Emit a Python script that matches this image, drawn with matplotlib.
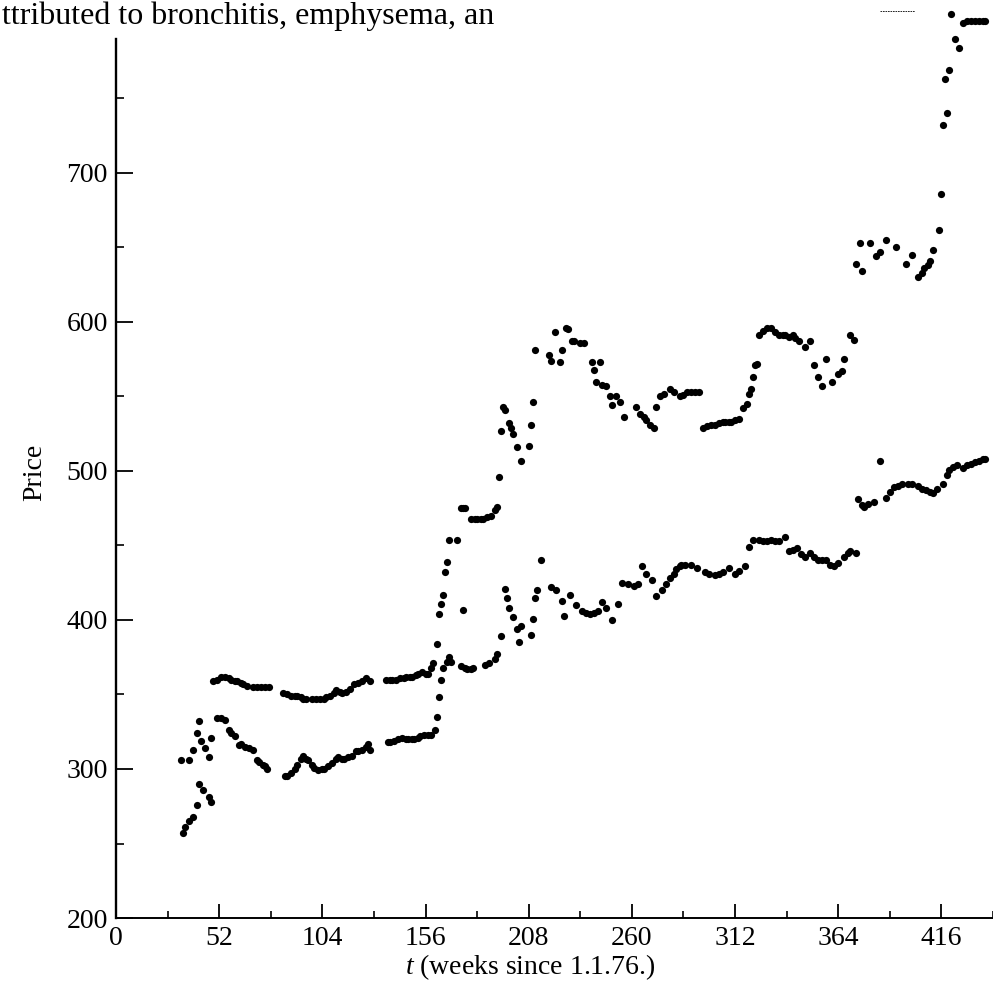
import matplotlib
matplotlib.use("Agg")
import matplotlib.pyplot as plt
from matplotlib.lines import Line2D

plt.rcParams['font.family'] = ['Liberation Serif', 'DejaVu Serif']
plt.rcParams['mathtext.fontset'] = 'custom'
plt.rcParams['mathtext.it'] = 'Liberation Serif:italic'
plt.rcParams['mathtext.rm'] = 'Liberation Serif'

# ---- data ----
# upper price series
weeks_upper = [33, 37, 39, 41, 42, 43, 45, 47, 48,
               49, 51, 53, 55, 57, 58, 60, 61, 63, 64, 66, 69, 71, 73, 75, 77,
               84, 86, 88, 90, 91, 93, 94, 96, 99, 101, 103, 105, 106, 108, 110, 111, 113, 114,
               116, 118, 120, 122, 124, 126, 128,
               136, 138, 139, 141, 143, 145, 146, 148, 149, 151, 152, 154, 156, 157, 159, 160,
               162, 163, 164, 165, 166, 167, 168, 172, 174, 175, 176, 179, 181, 182, 184, 185,
               187, 189, 191, 192, 193, 194, 195, 196, 198, 199, 200, 202, 204, 208, 209, 210, 211,
               218, 219, 221, 224, 225, 227, 228, 230, 231, 234, 236, 240, 241, 242, 244, 245,
               247, 249, 250, 252, 254, 256, 262, 264, 266, 267, 269, 271, 272, 274, 276, 279,
               281, 284, 286, 288, 290, 292, 294,
               296, 298, 300, 302, 304, 306, 307, 309, 310, 312, 314, 316, 318, 319, 320, 321,
               322, 323, 324, 326, 328, 330, 332, 334, 336, 337, 339, 341, 342, 344, 347, 350,
               352, 354, 356, 358, 361, 364, 366, 367, 370, 372,
               373, 375, 376, 380, 383, 385, 388, 393, 398, 401, 404, 406, 407, 409, 410, 412,
               415, 416, 417, 418, 419, 420, 421, 423, 425, 427, 429, 431, 433, 435, 437, 438]
price_upper = [306, 306, 313, 324, 332, 319, 314, 308, 321,
               359, 360, 362, 362, 361, 360, 359, 359, 358, 357, 356, 355, 355, 355, 355, 355,
               351, 350, 349, 349, 349, 348, 347, 347, 347, 347, 347, 347, 348, 349, 351, 353, 352, 351,
               352, 354, 357, 358, 359, 361, 359,
               360, 360, 360, 360, 361, 361, 362, 362, 362, 363, 364, 365, 364, 364, 368, 371,
               384, 404, 411, 417, 432, 439, 454, 454, 475, 475, 475, 468, 468, 468, 468, 468,
               469, 470, 474, 476, 496, 527, 543, 541, 532, 529, 525, 516, 507, 517, 531, 546, 581,
               578, 574, 593, 573, 581, 596, 595, 587, 587, 586, 586, 573, 568, 560, 573, 558,
               557, 550, 544, 550, 546, 536, 543, 538, 536, 534, 531, 529, 543, 550, 552, 555,
               553, 550, 551, 553, 553, 553, 553,
               529, 530, 531, 531, 532, 533, 533, 533, 533, 534, 535, 542, 545, 552, 555, 563,
               571, 572, 591, 594, 596, 596, 593, 591, 591, 591, 590, 591, 589, 587, 583, 587,
               571, 563, 557, 575, 560, 565, 567, 575, 591, 588,
               639, 653, 634, 653, 644, 647, 655, 650, 639, 645, 630, 633, 636, 638, 641, 648,
               662, 686, 732, 763, 740, 769, 807, 790, 784, 801, 802, 802, 802, 802, 802, 802]

# lower price series
weeks_lower = [34, 35, 37, 39, 41, 42, 44, 47, 48,
               51, 53, 55, 57, 58, 60, 62, 63, 65, 67, 69, 71, 72, 74, 75, 76,
               85, 86, 88, 90, 91, 93, 94, 96, 97, 99, 100, 102, 104, 105, 107, 109, 111, 112,
               114, 115, 117, 119, 121, 122, 124, 126, 127, 128,
               137, 138, 140, 142, 144, 146, 147, 149, 150, 152, 153, 155, 157, 159, 161, 162,
               163, 164, 165, 167, 168, 169, 174, 175, 176, 177, 179, 180, 186, 188, 191, 192,
               194, 196, 197, 198, 200, 202, 203, 204, 209, 210, 211, 212, 214,
               219, 222, 225, 226, 229, 232, 235, 237, 239, 241, 243, 245, 247, 250, 253, 255,
               258, 261, 263, 265, 267, 270, 272, 275, 277, 279, 281, 282, 284, 285, 287, 290,
               293, 297, 299, 302, 304, 306, 309, 312, 314, 317, 319, 321, 324, 326, 328, 330,
               332, 334, 337, 339, 341, 343, 345, 347, 350, 352, 354, 356, 358, 360, 362, 364,
               367, 369, 370, 373,
               374, 376, 377, 379, 382, 385, 388, 390, 392, 394, 396, 399, 401, 404, 406, 408,
               410, 412, 414, 417, 419, 420, 422, 424, 427, 429, 431, 433, 435, 437, 438]
price_lower = [257, 261, 265, 268, 276, 290, 286, 281, 278,
               334, 334, 333, 326, 324, 322, 316, 317, 315, 314, 313, 306, 305, 303, 302, 300,
               295, 295, 297, 300, 303, 307, 309, 307, 306, 303, 301, 299, 300, 300, 302, 304, 307, 308,
               307, 307, 308, 309, 312, 312, 313, 315, 317, 313,
               318, 318, 319, 320, 321, 320, 320, 320, 320, 321, 322, 323, 323, 323, 326, 335,
               348, 360, 368, 372, 375, 372, 369, 407, 368, 367, 367, 368, 370, 371, 374, 377,
               389, 421, 415, 408, 402, 394, 385, 396, 390, 401, 415, 420, 440,
               422, 420, 413, 403, 417, 410, 406, 405, 404, 405, 406, 412, 408, 400, 411, 425,
               424, 423, 424, 436, 431, 427, 416, 420, 424, 428, 431, 434, 436, 437, 437, 437,
               435, 432, 431, 430, 431, 432, 435, 431, 433, 436, 449, 454, 454, 453, 453, 454,
               453, 453, 456, 446, 447, 448, 444, 442, 445, 442, 440, 440, 440, 437, 436, 438,
               442, 445, 446, 445,
               481, 477, 476, 478, 479, 507, 482, 486, 489, 490, 491, 491, 491, 490, 488, 487,
               486, 485, 488, 491, 497, 501, 503, 504, 502, 504, 505, 506, 507, 508, 508]

x_ticks = [0, 52, 104, 156, 208, 260, 312, 364, 416]
y_ticks = [200, 300, 400, 500, 600, 700]

W, H = 993, 981
fig = plt.figure(figsize=(W / 100, H / 100), dpi=100)
fig.patch.set_facecolor('white')

ax = fig.add_axes([116 / W, 63 / H, 877 / W, 912 / H])
ax.set_xlim(0, 438.5)
ax.set_ylim(200, 200 + 912 / 1.49)

for wk, pr in ((weeks_upper, price_upper), (weeks_lower, price_lower)):
    ax.plot(wk, pr, linestyle='none', marker='o', ms=5.2, mew=0,
            color='black', clip_on=False)

for s in ('top', 'right'):
    ax.spines[s].set_visible(False)
ax.spines['left'].set_linewidth(1.7)
ax.spines['bottom'].set_linewidth(1.4)
ax.spines['left'].set_bounds(200, 790)

ax.set_xticks(x_ticks)
ax.set_xticklabels([str(v) for v in x_ticks])
ax.set_xticks([v + 26 for v in x_ticks], minor=True)
ax.set_yticks(y_ticks)
ax.set_yticklabels([str(v) for v in y_ticks])
ax.set_yticks([v + 50 for v in y_ticks if v + 50 <= 790], minor=True)

ax.tick_params(axis='x', which='major', direction='in', length=10, width=1.3,
               labelsize=20, pad=6)
ax.tick_params(axis='x', which='minor', direction='in', length=5, width=1.2)
ax.tick_params(axis='y', which='major', direction='in', length=12, width=1.3,
               labelsize=20, pad=6)
ax.tick_params(axis='y', which='minor', direction='in', length=6, width=1.2)

fig.text(35 / W, 1 - 472 / H, 'Price', rotation=90, ha='center', va='center',
         fontsize=20)
fig.text(530 / W, 1 - 967 / H, r'$t$ (weeks since 1.1.76.)', ha='center',
         va='center', fontsize=20)

# partial caption line from the scanned page above the chart
fig.text(2 / W, 1 - 24 / H, 'ttributed to bronchitis, emphysema, an',
         ha='left', va='baseline', fontsize=23)
fig.add_artist(Line2D([880 / W, 915 / W], [1 - 11 / H, 1 - 11 / H],
                      color='black', lw=0.6, linestyle=(0, (2, 1))))

fig.savefig('out.png', dpi=100)
